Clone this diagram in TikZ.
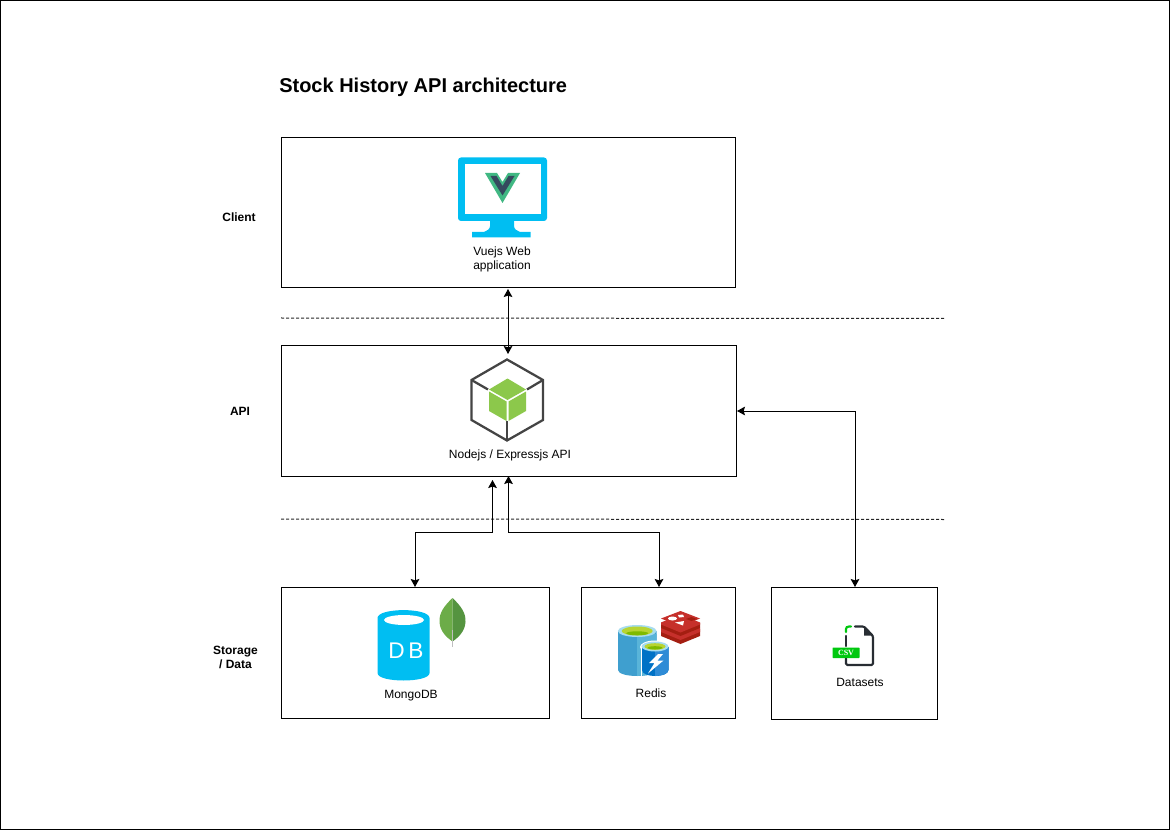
\documentclass[tikz,border=0pt]{standalone}
\usepackage{fontspec}
\setmainfont{Liberation Sans}
\newfontfamily\slabfont{Liberation Serif}
\usetikzlibrary{arrows.meta,calc}
\definecolor{vueblue}{HTML}{00BEF2}
\definecolor{vuegreen}{HTML}{41B883}
\definecolor{vuedark}{HTML}{35495E}
\definecolor{nodegray}{HTML}{444444}
\definecolor{nodegreen}{HTML}{8CC84B}
\definecolor{leafa}{HTML}{6CAC48}
\definecolor{leafb}{HTML}{559440}
\definecolor{azblue}{HTML}{3F9FCF}
\definecolor{azlight}{HTML}{59B4D9}
\definecolor{azrim}{HTML}{A6DCEF}
\definecolor{azlime}{HTML}{7FBA00}
\definecolor{azlimel}{HTML}{B8D432}
\definecolor{azdeep}{HTML}{0072C6}
\definecolor{azmid}{HTML}{2E8BD6}
\definecolor{redisa}{HTML}{C6302B}
\definecolor{redisb}{HTML}{A41E11}
\definecolor{csvgreen}{HTML}{00C80F}
\definecolor{csvdark}{HTML}{282D33}
\tikzset{
  x=0.75pt,y=-0.75pt,
  tier/.style={draw=black,line width=0.75pt,minimum width=0,inner sep=0},
  lbl/.style={font=\fontsize{9}{10.5}\selectfont,align=center,inner sep=0,text=black},
  side/.style={font=\bfseries\fontsize{9}{10.5}\selectfont,align=center,inner sep=0},
  flow/.style={line width=0.75pt,{Stealth[length=6pt,width=6.5pt,inset=1pt]}-{Stealth[length=6pt,width=6.5pt,inset=1pt]}},
  divider/.style={line width=0.75pt,dash pattern=on 2.25pt off 1.5pt,draw=black!85},
}
\newcommand{\tierbox}[5]{\node[tier,minimum width=#4*0.75pt,minimum height=#5*0.75pt] (#1) at ($(#2,#3)+(#4/2,#5/2)$) {};}
\begin{document}
\begin{tikzpicture}
\useasboundingbox (0,0) rectangle (1170,830);
\node[draw=black,line width=0.75pt,minimum width=876.5pt,minimum height=621.5pt,inner sep=0] (frame) at (585,415) {};
\node[anchor=west,inner sep=0,font=\bfseries\fontsize{15}{18}\selectfont] (title) at (279,87) {Stock History API architecture};

\tierbox{client}{281.5}{137.5}{454}{150}
\tierbox{api}{281.5}{345.5}{455}{130.5}
\tierbox{mongo}{281.5}{587.5}{268}{130.5}
\tierbox{redis}{581.5}{587.5}{154}{130.5}
\tierbox{data}{771.5}{587.5}{166}{132}

\node[side] (lclient) at (239,217) {Client};
\node[side] (lapi) at (240,411) {API};
\node[side] (lstore) at (235.5,657) {Storage\\/ Data};

\coordinate (d1a) at (281,318); \coordinate (d1b) at (945.5,318.5);
\coordinate (d2a) at (281,519); \coordinate (d2b) at (945.5,519.5);
\draw[divider] (d1a) -- (d1b);
\draw[divider] (d2a) -- (d2b);

% connectors
\coordinate (ca) at (508,289);
\coordinate (cb) at (508,354);
\draw[flow] (ca) -- (cb);
\coordinate (ma) at (492.5,480);
\coordinate (mb) at (415,587);
\draw[flow] (ma) -- (492.5,532) -- (415,532) -- (mb);
\coordinate (ra) at (508.5,476);
\coordinate (rb) at (659,587);
\draw[flow] (ra) -- (508.5,532) -- (659,532) -- (rb);
\coordinate (da) at (737,411);
\coordinate (db) at (855,587);
\draw[flow] (da) -- (855,411) -- (db);

% Vue monitor
\fill[vueblue,rounded corners=2.25pt] (458,157.5) rectangle (547,221);
\fill[white] (464.5,164) rectangle (540.5,214.5);
\fill[vueblue] (490,221) -- (490,226) .. controls (490,229) and (487,231) .. (484,232) -- (472,232) -- (472,237.5) -- (530.5,237.5) -- (530.5,232) -- (520,232) .. controls (517,231) and (514,229) .. (514,226) -- (514,221) -- cycle;
\fill[vuegreen] (485,173) -- (497,173) -- (502.5,182) -- (508,173) -- (520,173) -- (502.5,203) -- cycle;
\fill[vuedark] (490.5,176) -- (496.5,176) -- (502.5,186) -- (508.5,176) -- (514.5,176) -- (502.5,195.5) -- cycle;
\node[lbl] (lvue) at (502,259) {Vuejs Web\\application};

% Node cube
\draw[nodegray,line width=1.7pt,line join=miter] (507,359.5) -- (543,380) -- (543,420) -- (507,440.5) -- (471.5,420) -- (471.5,380) -- cycle;
\draw[nodegray,line width=1.7pt] (471.5,380) -- (488,389.5);
\draw[nodegray,line width=1.7pt] (543,380) -- (527,389.5);
\draw[nodegray,line width=1.7pt] (507,440.5) -- (507,421);
\fill[nodegreen] (507.5,378.5) -- (526,389.5) -- (507.5,400) -- (489,389.5) -- cycle;
\fill[nodegreen] (489,391.5) -- (506.5,401.5) -- (506.5,421) -- (489,411) -- cycle;
\fill[nodegreen] (526,391.5) -- (508.5,401.5) -- (508.5,421) -- (526,411) -- cycle;
\node[lbl] (lnode) at (510,455) {Nodejs / Expressjs API};

% Mongo DB cylinder
\fill[vueblue] (377.5,618) .. controls (377.5,607.5) and (429.5,607.5) .. (429.5,618) -- (429.5,673) .. controls (429.5,683) and (377.5,683) .. (377.5,673) -- cycle;
\fill[white] (404,620) ellipse [x radius=20, y radius=5];
\node[inner sep=0,text=white,font=\fontsize{17}{20}\selectfont\addfontfeature{LetterSpace=16}] (dbt) at (406,651) {DB};
% leaf
\fill[leafa] (452.5,598) .. controls (444,606) and (439,613) .. (439.5,622) .. controls (440,631) and (446,637) .. (452.5,641.5) -- cycle;
\fill[leafb] (452.5,598) .. controls (461,606) and (466,613) .. (465.5,622) .. controls (465,631) and (459,637) .. (452.5,641.5) -- cycle;
\draw[black!25,line width=0.75pt] (452.7,630) -- (452.7,647);
\node[lbl] (lmongo) at (411,695.5) {MongoDB};

% Azure Redis cylinders
\fill[azblue] (618,631) -- (656.5,631) -- (656.5,670) .. controls (656.5,678) and (618,678) .. (618,670) -- cycle;
\fill[azlight] (637,634) -- (656.5,634) -- (656.5,674) -- (637,676) -- cycle;
\fill[azrim] (637.2,631) ellipse [x radius=19.3, y radius=6];
\fill[azlimel] (637.2,631) ellipse [x radius=15.5, y radius=4.5];
\fill[azlime] (637.2,633.3) ellipse [x radius=11, y radius=2];
\fill[white] (655,647) ellipse [x radius=15, y radius=6.5];
\fill[white] (640.5,647) rectangle (642,676);
\fill[azdeep] (642,647) -- (668.5,647) -- (668.5,670) .. controls (668.5,678) and (642,678) .. (642,670) -- cycle;
\fill[azmid] (655,647) -- (668.5,647) -- (668.5,670) .. controls (668.5,674) and (660,676) .. (655,676) -- cycle;
\fill[azrim] (655,646.5) ellipse [x radius=13.5, y radius=5];
\fill[azlimel] (655,646.5) ellipse [x radius=10.5, y radius=3.3];
\fill[azlime] (655,647.8) ellipse [x radius=7.5, y radius=1.6];
\fill[white] (658,654) -- (649,663) -- (654.5,663) -- (648,673.5) -- (663.5,660.5) -- (657.5,660.5) -- (663,654) -- cycle;
% Redis stack
\fill[redisb] (661,629) -- (680.5,621) -- (700,629) -- (700,636) -- (680.5,644) -- (661,636) -- cycle;
\fill[redisa] (661,628) -- (680.5,620) -- (700,628) -- (700,632) -- (680.5,640) -- (661,632) -- cycle;
\fill[redisb] (661,623) -- (680.5,615) -- (700,623) -- (700,628) -- (680.5,636) -- (661,628) -- cycle;
\fill[redisa] (661,622.5) -- (680.5,614.5) -- (700,622.5) -- (700,624.5) -- (680.5,632.5) -- (661,624.5) -- cycle;
\fill[redisa] (661,618.5) -- (680.5,611) -- (700,618.5) -- (680.5,626.5) -- cycle;
\fill[white] (672.5,618.5) ellipse [x radius=4.5, y radius=2];
\fill[white] (675,622.5) -- (684,621) -- (683,625.5) -- cycle;
\fill[white] (678,615) -- (683,614.5) -- (684,617) -- (679,617.5) -- cycle;
\fill[redisb] (686,619) -- (691.5,617) -- (697,619) -- (691.5,621) -- cycle;
\node[lbl] (lredis) at (651,693.5) {Redis};

% CSV file
\draw[csvdark,line width=1.6pt,line cap=round,line join=round,rounded corners=1pt] (846,658.5) -- (846,665) -- (873,665) -- (873,636) -- (864,626.5) -- (855,626.5);
\draw[csvgreen,line width=1.6pt,line cap=round] (846,632) -- (846,629) .. controls (846,627.5) and (847,626.5) .. (849,626.5) -- (851,626.5);
\draw[csvdark,line width=1.6pt,line cap=round] (846,636) -- (846,646);
\fill[csvdark] (864,626) -- (873.5,635.5) -- (864,635.5) -- cycle;
\fill[csvgreen,rounded corners=0.5pt] (832.5,647.5) rectangle (859.5,658);
\node[inner sep=0,text=white,font=\slabfont\bfseries\fontsize{6}{6}\selectfont] (tcsv) at (846,652.7) {CSV};
\node[lbl] (ldata) at (860,682) {Datasets};
\end{tikzpicture}
\end{document}
